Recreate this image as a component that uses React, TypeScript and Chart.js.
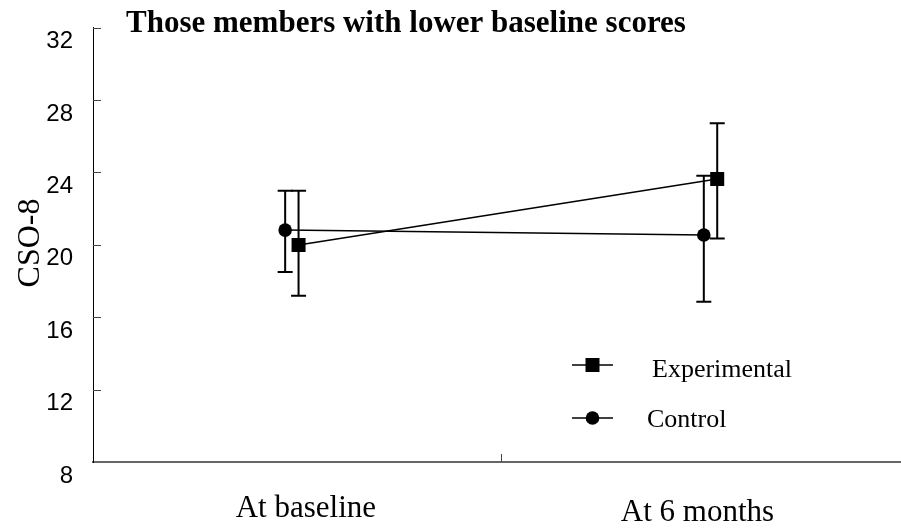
import React, { useEffect, useRef } from 'react';
import { Chart, registerables } from 'chart.js';

Chart.register(...registerables);

// ---- data ----
const categories = ['At baseline', 'At 6 months'];
const seriesNames = ['Experimental', 'Control'];
const experimentalMean = [19.98, 23.63];
const experimentalUpper = [22.98, 26.71];
const experimentalLower = [17.18, 20.35];
const controlMean = [20.81, 20.54];
const controlUpper = [22.98, 23.81];
const controlLower = [18.49, 16.85];
const yMin = 8;
const yMax = 32;
const yStep = 4;
const titleText = 'Those members with lower baseline scores';
const yAxisTitle = 'CSO-8';

// ---- layout / style constants ----
const DODGE = 0.016; // horizontal dodge of the two series, in category units
const LABEL_SHIFT = [14, -13];
const LABEL_BASELINE = [517, 521];
const SERIF = '"Liberation Serif", "Times New Roman", serif';
const SANS = '"Liberation Sans", Arial, sans-serif';

const zeroPadding = (s: any) => {
  s.paddingTop = 0;
  s.paddingBottom = 0;
  s.paddingLeft = 0;
  s.paddingRight = 0;
};

const customDraw = {
  id: 'customDraw',
  beforeDatasetsDraw(chart: any) {
    const ctx = chart.ctx;
    const ys = chart.scales.y;
    chart.data.datasets.forEach((ds: any, di: number) => {
      const meta = chart.getDatasetMeta(di);
      meta.data.forEach((pt: any, i: number) => {
        const x = pt.x;
        const yt = ys.getPixelForValue(ds.errUpper[i]);
        const yb = ys.getPixelForValue(ds.errLower[i]);
        ctx.save();
        ctx.strokeStyle = '#000';
        ctx.lineWidth = 2;
        ctx.beginPath();
        ctx.moveTo(x, yt);
        ctx.lineTo(x, yb);
        ctx.moveTo(x - 7.5, yt);
        ctx.lineTo(x + 7.5, yt);
        ctx.moveTo(x - 7.5, yb);
        ctx.lineTo(x + 7.5, yb);
        ctx.stroke();
        ctx.restore();
      });
    });
  },
  afterDraw(chart: any) {
    const ctx = chart.ctx;
    const area = chart.chartArea;
    const xs = chart.scales.x;
    const ys = chart.scales.y;
    ctx.save();
    // inward y ticks
    ctx.strokeStyle = '#444';
    ctx.lineWidth = 1;
    ys.ticks.forEach((t: any) => {
      if (t.value === yMin) return;
      const py = Math.round(ys.getPixelForValue(t.value)) + 0.5;
      ctx.beginPath();
      ctx.moveTo(area.left, py);
      ctx.lineTo(area.left + 8, py);
      ctx.stroke();
    });
    // inward x category-boundary tick
    const mx = Math.round(xs.getPixelForValue(0.5)) + 0.5;
    ctx.beginPath();
    ctx.moveTo(mx, area.bottom);
    ctx.lineTo(mx, area.bottom - 8);
    ctx.stroke();

    ctx.fillStyle = '#000';
    // category labels
    ctx.font = `31px ${SERIF}`;
    ctx.textAlign = 'center';
    ctx.textBaseline = 'alphabetic';
    categories.forEach((c, i) => {
      ctx.fillText(c, xs.getPixelForValue(i) + LABEL_SHIFT[i], LABEL_BASELINE[i]);
    });

    // title
    ctx.font = `bold 31px ${SERIF}`;
    ctx.textAlign = 'left';
    ctx.fillText(titleText, 126, 32);

    // y axis title
    ctx.save();
    ctx.translate(31, 243);
    ctx.rotate(-Math.PI / 2);
    ctx.font = `32px ${SERIF}`;
    ctx.textAlign = 'center';
    ctx.textBaseline = 'middle';
    ctx.fillText(yAxisTitle, 0, 0);
    ctx.restore();

    // legend
    const legendY = [365, 418];
    const legendTextX = [652, 647];
    const legendBase = [377, 427];
    seriesNames.forEach((name, i) => {
      const cy = legendY[i];
      ctx.strokeStyle = '#000';
      ctx.lineWidth = 1.5;
      ctx.beginPath();
      ctx.moveTo(572, cy);
      ctx.lineTo(613, cy);
      ctx.stroke();
      ctx.fillStyle = '#000';
      if (i === 0) {
        ctx.fillRect(592.5 - 7, cy - 7, 14, 14);
      } else {
        ctx.beginPath();
        ctx.arc(592.5, cy, 6.8, 0, Math.PI * 2);
        ctx.fill();
      }
      ctx.font = `26px ${SERIF}`;
      ctx.textAlign = 'left';
      ctx.textBaseline = 'alphabetic';
      ctx.fillText(name, legendTextX[i], legendBase[i]);
    });
    ctx.restore();
  },
};

export default function App() {
  const ref = useRef<HTMLCanvasElement>(null);
  useEffect(() => {
    const chart = new Chart(ref.current as HTMLCanvasElement, {
      type: 'line',
      data: {
        datasets: [
          {
            label: seriesNames[0],
            data: experimentalMean.map((v, i) => ({ x: i + DODGE, y: v })),
            errUpper: experimentalUpper,
            errLower: experimentalLower,
            borderColor: '#000',
            borderWidth: 1.5,
            backgroundColor: '#000',
            pointStyle: 'rect',
            pointRadius: 9.9,
            pointBorderWidth: 0,
            pointBackgroundColor: '#000',
          } as any,
          {
            label: seriesNames[1],
            data: controlMean.map((v, i) => ({ x: i - DODGE, y: v })),
            errUpper: controlUpper,
            errLower: controlLower,
            borderColor: '#000',
            borderWidth: 1.5,
            backgroundColor: '#000',
            pointStyle: 'circle',
            pointRadius: 6.8,
            pointBorderWidth: 0,
            pointBackgroundColor: '#000',
          } as any,
        ],
      },
      options: {
        responsive: false,
        animation: false,
        layout: { autoPadding: false, padding: { top: 27.5, left: 0, right: 0, bottom: 0 } },
        plugins: {
          legend: { display: false },
          tooltip: { enabled: false },
          title: { display: false },
        },
        scales: {
          x: {
            type: 'linear',
            min: -0.475,
            max: 1.455,
            grid: { display: false, drawTicks: false },
            ticks: { display: false },
            border: { display: true, color: '#666', width: 2 },
            afterFit: (s: any) => {
              s.height = 67;
              zeroPadding(s);
            },
          },
          y: {
            type: 'linear',
            min: yMin,
            max: yMax,
            ticks: {
              stepSize: yStep,
              color: '#000',
              font: { family: SANS, size: 24 },
              labelOffset: 14,
              padding: 20,
            },
            grid: { display: false, drawTicks: false },
            border: { display: true, color: '#000', width: 1 },
            afterFit: (s: any) => {
              s.width = 93;
              zeroPadding(s);
            },
          },
        },
      } as any,
      plugins: [customDraw],
    });
    return () => chart.destroy();
  }, []);
  return (
    <div style={{ position: 'absolute', left: 0, top: 0, width: 901, height: 529, background: '#fff', overflow: 'hidden' }}>
      <canvas ref={ref} width={901} height={529} style={{ display: 'block' }} />
    </div>
  );
}
